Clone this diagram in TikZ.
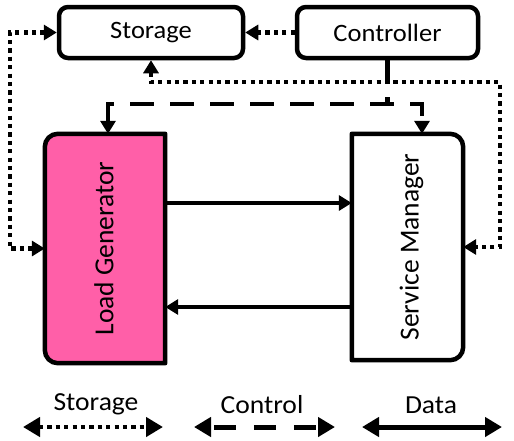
\documentclass[tikz,border=0pt]{standalone}
\usepackage{fontspec}
\setmainfont{Carlito}
\newfontfamily\wfont[FakeStretch=1.06]{Carlito}
\usetikzlibrary{arrows.meta,backgrounds}
\definecolor{lgpink}{RGB}{255,95,168}
\begin{document}
\begin{tikzpicture}[x=1pt,y=-1pt,
  topbox/.style={draw, line width=4.5pt, rounded corners=9pt, inner sep=0pt,
    font=\wfont\fontsize{25}{29}\selectfont},
  tallbox/.style={inner sep=0pt, rotate=90, font=\fontsize{27.5}{32}\selectfont},
  boxline/.style={line width=4.5pt, line join=round},
  stor/.style={line width=4.5pt, dash pattern=on 4.2pt off 4.2pt},
  ctl/.style={line width=4.5pt, dash pattern=on 24pt off 16pt},
  dat/.style={line width=4pt},
  tipa/.tip={Triangle[length=13pt,width=15pt]},
  tipb/.tip={Triangle[length=17pt,width=19pt]},
  leg/.style={font=\wfont\fontsize{26}{30}\selectfont, inner sep=0pt, anchor=base}
]
\useasboundingbox (0,0) rectangle (514,440);

% boxes
\node[topbox, minimum width=184pt, minimum height=51pt] (st) at (151,32.5) {Storage};
\node[topbox, minimum width=181pt, minimum height=51pt] (co) at (387.5,32.5) {Controller};
\node[inner sep=0pt, minimum width=120pt, minimum height=229pt] (lg) at (105,248.5) {};
\node[inner sep=0pt, minimum width=111pt, minimum height=226pt] (sm) at (407.5,247) {};
\node[tallbox] (lgt) at ([xshift=-1pt]lg.center) {Load Generator};
\node[tallbox] (smt) at ([xshift=4pt]sm.center) {Service Manager};

\begin{scope}[on background layer]
\draw[boxline, fill=lgpink] (lg.north east) -- ([xshift=13pt]lg.north west)
  arc[start angle=90, end angle=180, radius=13pt] -- ([yshift=13pt]lg.south west)
  arc[start angle=180, end angle=270, radius=13pt] -- (lg.south east) -- cycle;
\draw[boxline, fill=white] (sm.north west) -- ([xshift=-13pt]sm.north east)
  arc[start angle=90, end angle=0, radius=13pt] -- ([yshift=13pt]sm.south east)
  arc[start angle=0, end angle=-90, radius=13pt] -- (sm.south west) -- cycle;
\end{scope}

% storage connectors
\draw[stor, -tipa] (co.west) -- (st.east);
\coordinate (sr) at (500,82);
\coordinate (sl) at (10,248.5);
\draw[stor, tipa-tipa] (st.south) |- (sr) |- (sm.east);
\draw[stor, tipa-tipa] (st.west) -| (sl) -- (lg.west);

% control connectors
\coordinate (dl) at (108,104);
\coordinate (dr) at (422,104);
\coordinate (dm) at (387.5,104);
\draw[line width=4.5pt, dash pattern=on 24pt off 13pt on 10pt] (co.south) -- (dm);
\draw[ctl, tipa-tipa] (lg.north -| dl) -- (dl) -- (dr) -- (sm.north -| dr);

% data connectors
\draw[dat, -tipa] ([yshift=45.5pt]lg.east) -- ([yshift=45.5pt]lg.east -| sm.west);
\draw[dat, -tipa] ([yshift=-58.5pt]lg.east -| sm.west) -- ([yshift=-58.5pt]lg.east);

% legend
\node[leg] (lst) at (96,410) {Storage};
\node[leg] (lct) at (262,413) {Control};
\node[leg] (ldt) at (431,413) {Data};
\coordinate (a1) at (23,427); \coordinate (a2) at (163,427);
\coordinate (b1) at (194,427); \coordinate (b2) at (335,427);
\coordinate (c1) at (362,427); \coordinate (c2) at (502,427);
\draw[line width=4.5pt, dash pattern=on 4.2pt off 4.2pt, tipb-tipb] (a1) -- (a2);
\draw[line width=5pt, dash pattern=on 22pt off 18pt, dash phase=-4pt, tipb-tipb] (b1) -- (b2);
\draw[line width=5pt, tipb-tipb] (c1) -- (c2);
\end{tikzpicture}
\end{document}
